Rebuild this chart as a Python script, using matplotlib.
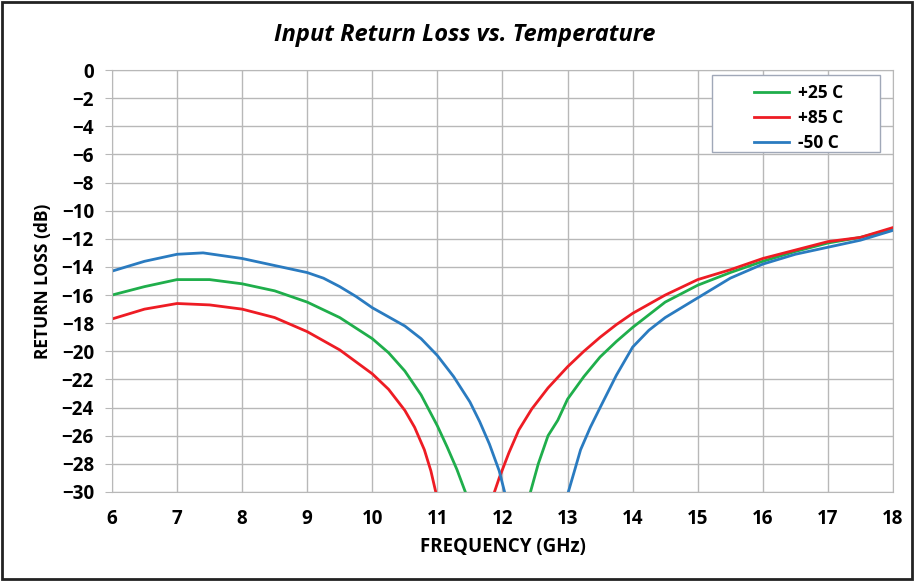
import matplotlib
matplotlib.use("Agg")
import matplotlib.pyplot as plt
from matplotlib.patches import Rectangle

plt.rcParams['font.family'] = ['Open Sans', 'DejaVu Sans']
plt.rcParams['font.weight'] = 'bold'
plt.rcParams['axes.titleweight'] = 'bold'
plt.rcParams['axes.labelweight'] = 'bold'

# +25 C
f_25_lo = [6.0, 6.5, 7.0, 7.5, 8.0, 8.5, 9.0, 9.5, 10.0, 10.25, 10.5, 10.75, 11.0, 11.15, 11.3, 11.47]
rl_25_lo = [-16.0, -15.4, -14.9, -14.9, -15.2, -15.7, -16.5, -17.6, -19.1, -20.1, -21.4, -23.1, -25.3, -26.8, -28.4, -30.5]
f_25_hi = [12.4, 12.55, 12.7, 12.85, 13.0, 13.25, 13.5, 13.75, 14.0, 14.5, 15.0, 15.5, 16.0, 16.5, 17.0, 17.5, 18.0]
rl_25_hi = [-30.5, -28.0, -26.0, -24.9, -23.4, -21.8, -20.4, -19.3, -18.3, -16.5, -15.3, -14.4, -13.6, -12.9, -12.3, -11.9, -11.3]

# +85 C
f_85_lo = [6.0, 6.5, 7.0, 7.5, 8.0, 8.5, 9.0, 9.5, 10.0, 10.25, 10.5, 10.65, 10.8, 10.9, 11.0]
rl_85_lo = [-17.7, -17.0, -16.6, -16.7, -17.0, -17.6, -18.6, -19.9, -21.6, -22.7, -24.2, -25.4, -27.0, -28.5, -30.5]
f_85_hi = [11.84, 11.95, 12.1, 12.25, 12.45, 12.7, 13.0, 13.25, 13.5, 13.75, 14.0, 14.5, 15.0, 15.5, 16.0, 16.5, 17.0, 17.5, 18.0]
rl_85_hi = [-30.5, -29.0, -27.2, -25.6, -24.1, -22.6, -21.1, -20.0, -19.0, -18.1, -17.3, -16.0, -14.9, -14.2, -13.4, -12.8, -12.2, -11.9, -11.2]

# -50 C
f_50_lo = [6.0, 6.5, 7.0, 7.4, 8.0, 8.5, 9.0, 9.25, 9.5, 9.75, 10.0, 10.5, 10.75, 11.0, 11.25, 11.5, 11.65, 11.8, 11.95, 12.06]
rl_50_lo = [-14.3, -13.6, -13.1, -13.0, -13.4, -13.9, -14.4, -14.8, -15.4, -16.1, -16.9, -18.2, -19.1, -20.3, -21.8, -23.6, -25.0, -26.6, -28.5, -30.5]
f_50_hi = [12.98, 13.1, 13.2, 13.35, 13.5, 13.75, 14.0, 14.25, 14.5, 14.75, 15.0, 15.5, 16.0, 16.5, 17.0, 17.5, 18.0]
rl_50_hi = [-30.5, -28.6, -27.0, -25.4, -24.0, -21.7, -19.7, -18.5, -17.6, -16.9, -16.2, -14.8, -13.8, -13.1, -12.6, -12.1, -11.4]

green = '#1fae4b'
red = '#ee1c24'
blue = '#2a7bc0'

fig = plt.figure(figsize=(9.14, 5.81), dpi=100)
ax = fig.add_axes([0.1225, 0.1532, 0.8545, 0.7263])

ax.plot(f_25_lo, rl_25_lo, color=green, lw=2, label='+25 C')
ax.plot(f_25_hi, rl_25_hi, color=green, lw=2)
ax.plot(f_85_lo, rl_85_lo, color=red, lw=2, label='+85 C')
ax.plot(f_85_hi, rl_85_hi, color=red, lw=2)
ax.plot(f_50_lo, rl_50_lo, color=blue, lw=2, label='-50 C')
ax.plot(f_50_hi, rl_50_hi, color=blue, lw=2)

ax.set_xlim(6, 18)
ax.set_ylim(-30, 0)
ax.set_xticks(range(6, 19))
ax.set_yticks(range(-30, 1, 2))
ax.grid(True, color='#b8b8b8', lw=1)
ax.set_axisbelow(True)
for s in ax.spines.values():
    s.set_color('#b8b8b8')
ax.tick_params(axis='both', colors='#b8b8b8', labelcolor='black', labelsize=13.5, length=5)
ax.tick_params(axis='x', length=0, pad=12)
ax.tick_params(axis='y', pad=8)

ax.set_xlabel('FREQUENCY (GHz)', fontsize=13.5, labelpad=6)
ax.set_ylabel('RETURN LOSS (dB)', fontsize=12.5, labelpad=7)
fig.text(0.508, 0.94, 'Input Return Loss vs. Temperature', fontsize=17,
         fontweight='bold', fontstyle='italic', ha='center', va='center')

# legend box, wider than the entries as in the original
ax.add_patch(Rectangle((0.768, 0.806), 0.215, 0.182, transform=ax.transAxes,
                       facecolor='white', edgecolor='#a0a8b8', lw=1, zorder=4))
leg = ax.legend(loc='upper left', bbox_to_anchor=(0.81, 0.99), frameon=False,
                fontsize=12.5, handlelength=2.0, borderpad=0.55, labelspacing=0.4,
                handletextpad=0.5, borderaxespad=0)
leg.set_zorder(5)

fig.patches.append(Rectangle((0.002, 0.003), 0.996, 0.994, transform=fig.transFigure,
                             fill=False, edgecolor='#222222', lw=2))

fig.savefig('out.png', dpi=100)
